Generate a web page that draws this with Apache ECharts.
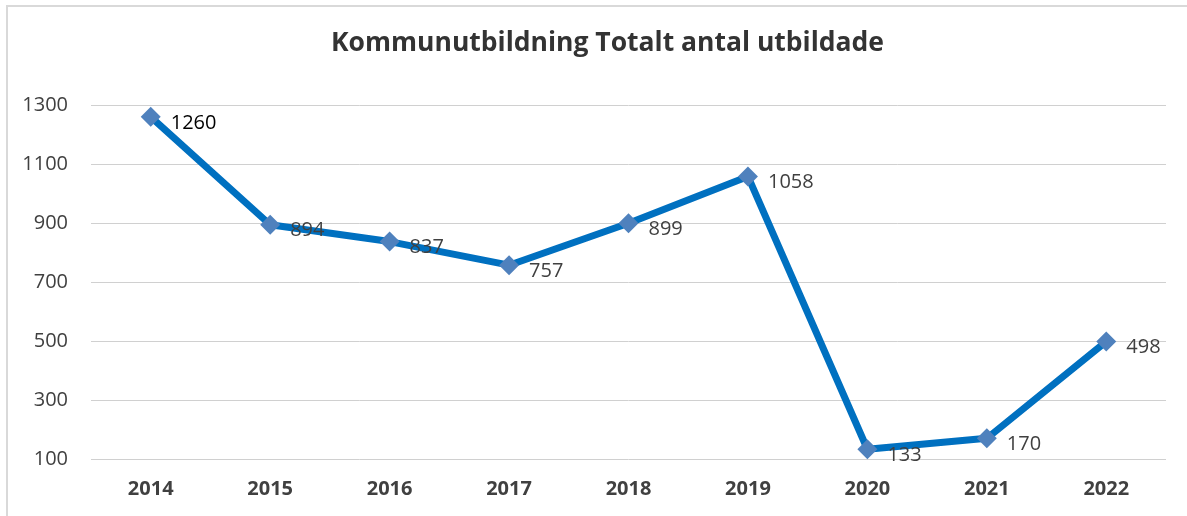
<!DOCTYPE html>
<html>
<head>
<meta charset="utf-8">
<script src="https://cdn.jsdelivr.net/npm/echarts@6/dist/echarts.min.js"></script>
<style>
  html, body { margin: 0; padding: 0; background: #fff; }
  #chart { width: 1187px; height: 516px; }
</style>
</head>
<body>
<div id="chart"></div>
<script>
const years = ['2014', '2015', '2016', '2017', '2018', '2019', '2020', '2021', '2022']
const trained = [1260, 894, 837, 757, 899, 1058, 133, 170, 498]
const title = 'Kommunutbildning Totalt antal utbildade'

const chart = echarts.init(document.getElementById('chart'))

chart.setOption({
    backgroundColor: '#fff',
    animation: false,
    textStyle: { fontFamily: 'Open Sans, sans-serif' },
    title: {
        text: title,
        left: 326,
        top: 25,
        textStyle: {
            fontSize: 26.5,
            fontWeight: 'bold',
            color: '#333',
            fontFamily: 'Open Sans, sans-serif'
        }
    },
    graphic: [{
        type: 'rect',
        shape: { x: 7, y: 6, width: 1190, height: 520 },
        style: { fill: 'none', stroke: '#d9d9d9', lineWidth: 2 },
        silent: true
    }],
    grid: { left: 91, right: 21, top: 105, bottom: 57 },
    xAxis: {
        type: 'category',
        data: years,
        boundaryGap: true,
        axisLine: { show: false },
        axisTick: { show: false },
        axisLabel: {
            fontSize: 20,
            fontWeight: 'bold',
            color: '#404040',
            margin: 20
        }
    },
    yAxis: {
        type: 'value',
        min: 100,
        max: 1300,
        interval: 200,
        axisLine: { show: false },
        axisTick: { show: false },
        splitLine: { lineStyle: { color: '#d0d0d0', width: 1 } },
        axisLabel: {
            fontSize: 20,
            color: '#404040',
            margin: 23,
            formatter: v => String(v)
        }
    },
    series: [{
        type: 'line',
        data: trained,
        symbol: 'diamond',
        symbolSize: 20,
        lineStyle: { color: '#0070C0', width: 7 },
        itemStyle: { color: '#4F81BD' },
        label: {
            show: true,
            position: 'right',
            distance: 10,
            offset: [0, 6],
            fontSize: 20,
            color: '#404040',
            formatter: p => p.dataIndex === 0
                ? '{b|' + p.value + '}'
                : String(p.value),
            rich: { b: { fontSize: 20, color: '#000' } }
        },
        z: 3
    }]
})
</script>
</body>
</html>
